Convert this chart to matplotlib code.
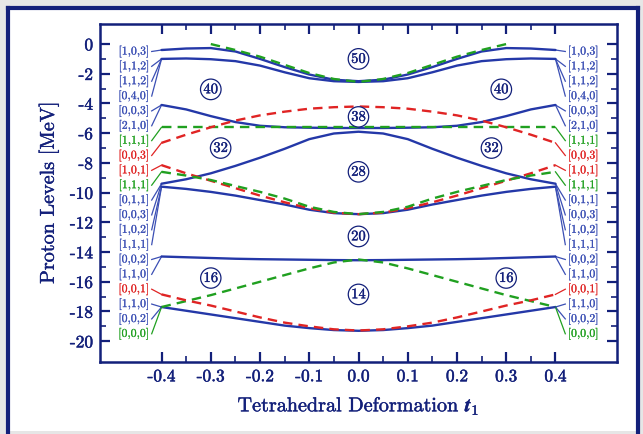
import matplotlib
matplotlib.use("Agg")
import matplotlib.pyplot as plt
import matplotlib.patheffects as pe
from matplotlib.lines import Line2D
from matplotlib.patches import Rectangle

# ---------------------------------------------------------------
# style
# ---------------------------------------------------------------
plt.rcParams["font.family"] = ["cmr10", "DejaVu Serif"]
plt.rcParams["mathtext.fontset"] = "cm"
plt.rcParams["axes.unicode_minus"] = False
plt.rcParams["axes.formatter.use_mathtext"] = True

NAVY = "#13207a"
BLUE = "#2438a8"
LBLUE = "#3b4fb4"
RED = "#e02424"
GREEN = "#20a020"


def heavy(col, w=0.45):
    # thin outline in the text colour so the CM glyphs read a bit heavier
    return [pe.withStroke(linewidth=w, foreground=col)]


# ---------------------------------------------------------------
# data: proton single-particle levels vs t1
# ---------------------------------------------------------------
T = [-0.40, -0.35, -0.30, -0.25, -0.20, -0.15, -0.10, -0.05, 0.00,
     0.05, 0.10, 0.15, 0.20, 0.25, 0.30, 0.35, 0.40]
T_TOP = [-0.30, -0.25, -0.20, -0.15, -0.10, -0.05, 0.00,
         0.05, 0.10, 0.15, 0.20, 0.25, 0.30]

blue_a = [-0.40, -0.30, -0.27, -0.50, -1.00, -1.55, -2.05, -2.40, -2.50,
          -2.40, -2.05, -1.55, -1.00, -0.50, -0.27, -0.30, -0.40]
blue_b = [-1.00, -0.97, -1.02, -1.15, -1.45, -1.90, -2.30, -2.50, -2.55,
          -2.50, -2.30, -1.90, -1.45, -1.15, -1.02, -0.97, -1.00]
green_top = [0.00, -0.40, -0.85, -1.40, -1.95, -2.35, -2.55,
             -2.35, -1.95, -1.40, -0.85, -0.40, 0.00]
blue_c = [-4.10, -4.40, -4.85, -5.25, -5.50, -5.60, -5.63, -5.65, -5.65,
          -5.65, -5.63, -5.60, -5.50, -5.25, -4.85, -4.40, -4.10]
green_flat = [-5.60] * 17
red_up = [-6.65, -6.10, -5.60, -5.15, -4.80, -4.55, -4.35, -4.25, -4.20,
          -4.25, -4.35, -4.55, -4.80, -5.15, -5.60, -6.10, -6.65]
blue_d = [-9.40, -9.10, -8.70, -8.20, -7.65, -7.05, -6.40, -6.02, -5.90,
          -6.02, -6.40, -7.05, -7.65, -8.20, -8.70, -9.10, -9.40]
blue_e = [-9.60, -9.75, -9.95, -10.20, -10.50, -10.80, -11.15, -11.38, -11.45,
          -11.38, -11.15, -10.80, -10.50, -10.20, -9.95, -9.75, -9.60]
red_mid = [-8.15, -8.70, -9.20, -9.70, -10.20, -10.65, -11.05, -11.35, -11.45,
           -11.35, -11.05, -10.65, -10.20, -9.70, -9.20, -8.70, -8.15]
green_mid = [-8.60, -8.85, -9.15, -9.55, -9.95, -10.40, -10.95, -11.30, -11.45,
             -11.30, -10.95, -10.40, -9.95, -9.55, -9.15, -8.85, -8.60]
blue_f = [-14.30, -14.35, -14.40, -14.45, -14.48, -14.50, -14.52, -14.54, -14.55,
          -14.54, -14.52, -14.50, -14.48, -14.45, -14.40, -14.35, -14.30]
green_low = [-17.70, -17.30, -16.90, -16.45, -16.00, -15.55, -15.10, -14.70, -14.50,
             -14.70, -15.10, -15.55, -16.00, -16.45, -16.90, -17.30, -17.70]
red_low = [-16.85, -17.25, -17.60, -18.00, -18.40, -18.75, -19.00, -19.20, -19.28,
           -19.20, -19.00, -18.75, -18.40, -18.00, -17.60, -17.25, -16.85]
blue_g = [-17.70, -17.95, -18.20, -18.45, -18.70, -18.95, -19.12, -19.25, -19.30,
          -19.25, -19.12, -18.95, -18.70, -18.45, -18.20, -17.95, -17.70]

# name -> (t grid, energies, colour, solid?)
CURVES = {
    "a": (T, blue_a, BLUE, True),
    "b": (T, blue_b, BLUE, True),
    "gt": (T_TOP, green_top, GREEN, False),
    "c": (T, blue_c, BLUE, True),
    "gf": (T, green_flat, GREEN, False),
    "ru": (T, red_up, RED, False),
    "d": (T, blue_d, BLUE, True),
    "e": (T, blue_e, BLUE, True),
    "rm": (T, red_mid, RED, False),
    "gm": (T, green_mid, GREEN, False),
    "f": (T, blue_f, BLUE, True),
    "gl": (T, green_low, GREEN, False),
    "rl": (T, red_low, RED, False),
    "g": (T, blue_g, BLUE, True),
}

# quantum-number labels, top to bottom, and the level each one points at
LABELS = ["[1,0,3]", "[1,1,2]", "[1,1,2]", "[0,4,0]", "[0,0,3]", "[2,1,0]",
          "[1,1,1]", "[0,0,3]", "[1,0,1]", "[1,1,1]", "[0,1,1]", "[0,0,3]",
          "[1,0,2]", "[1,1,1]", "[0,0,2]", "[1,1,0]", "[0,0,1]", "[1,1,0]",
          "[0,0,2]", "[0,0,0]"]
LABEL_Y = [-0.5, -1.5, -2.5, -3.5, -4.5, -5.5, -6.5, -7.5, -8.5, -9.5,
           -10.5, -11.5, -12.5, -13.5, -14.5, -15.5, -16.5, -17.5, -18.5, -19.5]
LABEL_CURVE = ["a", "b", "b", "b", "c", "c", "gf", "ru", "rm", "gm",
               "d", "d", "e", "e", "f", "f", "rl", "g", "g", "gl"]

# circled magic numbers (t, E, text)
MAGIC_T = [0.0, -0.30, 0.29, 0.0, -0.28, 0.27, 0.0, 0.0, -0.30, 0.30, 0.0]
MAGIC_E = [-1.0, -3.05, -3.05, -4.9, -7.0, -7.0, -8.6, -12.95, -15.75, -15.75, -16.85]
MAGIC_TXT = ["50", "40", "40", "38", "32", "32", "28", "20", "16", "16", "14"]

# ---------------------------------------------------------------
# figure
# ---------------------------------------------------------------
fig = plt.figure(figsize=(6.43, 4.34), dpi=100)
fig.patch.set_facecolor("#e6e6e6")
W, H = 643.0, 434.0
fig.patches.append(Rectangle((8 / W, 3 / H), 630 / W, (426 - 3) / H,
                             transform=fig.transFigure, facecolor="white",
                             edgecolor="none", zorder=-5))
for xs, ys in [([8, 8], [0, 426]), ([8, 638], [426, 426]), ([638, 638], [426, 0])]:
    fig.lines.append(Line2D([x / W for x in xs], [y / H for y in ys],
                            transform=fig.transFigure, color=NAVY, lw=3.0,
                            zorder=-4))

ax = fig.add_axes([100 / W, 72 / H, 517 / W, 338 / H])
ax.set_facecolor("none")
ax.set_xlim(-0.525, 0.525)
ax.set_ylim(-21.4, 1.35)

for name, (ts, es, col, solid) in CURVES.items():
    if solid:
        ax.plot(ts, es, color=col, lw=1.7, solid_joinstyle="round",
                solid_capstyle="round", zorder=3)
    else:
        ax.plot(ts, es, color=col, lw=1.7, dashes=(4, 2.6), zorder=4)

# labels and connectors on both sides
for txt, ly, cname in zip(LABELS, LABEL_Y, LABEL_CURVE):
    ts, es, col, solid = CURVES[cname]
    tcol = LBLUE if col == BLUE else col
    ax.plot([-0.42, ts[0]], [ly, es[0]], color=tcol, lw=0.9, zorder=2)
    ax.plot([0.42, ts[-1]], [ly, es[-1]], color=tcol, lw=0.9, zorder=2)
    ax.text(-0.425, ly, txt, color=tcol, fontsize=8.5, ha="right", va="center",
            path_effects=heavy(tcol, 0.12))
    ax.text(0.425, ly, txt, color=tcol, fontsize=8.5, ha="left", va="center",
            path_effects=heavy(tcol, 0.12))

for mt, me, mtxt in zip(MAGIC_T, MAGIC_E, MAGIC_TXT):
    ax.text(mt, me, mtxt, color=NAVY, fontsize=10.5, ha="center", va="center",
            zorder=6, path_effects=heavy(NAVY, 0.25),
            bbox=dict(boxstyle="circle,pad=0.2", fc="white", ec=NAVY, lw=0.9))

# axes styling
for sp in ax.spines.values():
    sp.set_color(NAVY)
    sp.set_linewidth(1.8)

ax.set_xticks([-0.4, -0.3, -0.2, -0.1, 0.0, 0.1, 0.2, 0.3, 0.4])
ax.set_xticklabels(["-0.4", "-0.3", "-0.2", "-0.1", "0.0", "0.1", "0.2", "0.3", "0.4"])
ax.set_xticks([-0.35, -0.25, -0.15, -0.05, 0.05, 0.15, 0.25, 0.35], minor=True)
ax.set_yticks(list(range(-20, 1, 2)))
ax.set_yticklabels([str(v) for v in range(-20, 1, 2)])
ax.set_yticks(list(range(-19, 0, 2)), minor=True)
ax.tick_params(which="both", direction="in", top=True, right=True,
               color=NAVY, labelcolor=NAVY, labelsize=12.5)
ax.tick_params(which="major", length=7, width=1.6, pad=5)
ax.tick_params(which="minor", length=4, width=1.2)
for lab in ax.get_xticklabels() + ax.get_yticklabels():
    lab.set_path_effects(heavy(NAVY, 0.35))

ax.set_xlabel(r"Tetrahedral Deformation $\mathbfit{t}_1$", color=NAVY,
              fontsize=14.5, labelpad=8, path_effects=heavy(NAVY, 0.3))
ax.set_ylabel("Proton Levels [MeV]", color=NAVY, fontsize=14.5, labelpad=8,
              path_effects=heavy(NAVY, 0.3))

fig.savefig("out.png", dpi=100, facecolor=fig.get_facecolor())
